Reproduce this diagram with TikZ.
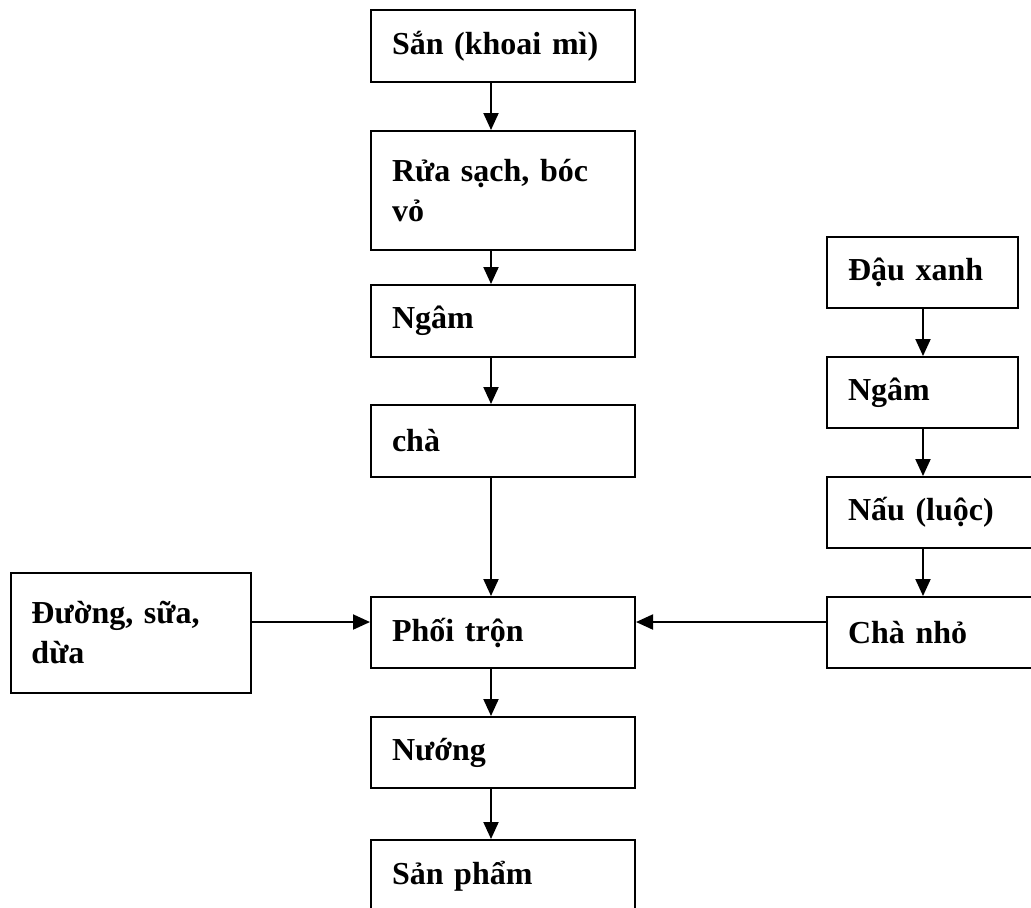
\documentclass[tikz,border=0pt]{standalone}
\usepackage{fontspec}
\setmainfont{Liberation Serif}
\usetikzlibrary{arrows.meta,positioning}

\begin{document}
\begin{tikzpicture}[x=0.5pt,y=-0.5pt,>={Triangle[length=8.5pt,width=7.5pt]},line width=1pt,
  every node/.style={draw,rectangle,align=left,inner xsep=10.5pt,inner ysep=0pt,
    font=\fontsize{16}{20}\selectfont\bfseries},
  midbox/.style={text width=111pt,minimum height=36pt},
  sidebox/.style={text width=74.5pt,minimum height=35.5pt},
  widebox/.style={text width=85.5pt,minimum height=35.5pt}]
\useasboundingbox (0,0) rectangle (1031,907);
\clip (0,0) rectangle (1031,907);

% main column
\node[midbox] (san) at (503,46) {Sắn (khoai mì)};
\node[midbox,minimum height=59.5pt] (rua) at (503,190.5) {Rửa sạch, bóc\\vỏ};
\node[midbox] (ngam1) at (503,321) {Ngâm};
\node[midbox] (cha) at (503,441) {chà};
\node[midbox,minimum height=35.5pt] (phoi) at (503,632.5) {Phối trộn};
\node[midbox,minimum height=35.5pt] (nuong) at (503,752.5) {Nướng};
\node[midbox] (sp) at (503,876) {Sản phẩm};

% side inputs
\node[text width=99pt,minimum height=60pt] (duong) at (130.5,633) {Đường, sữa,\\dừa};
\node[sidebox] (dau) at (922.5,272.5) {Đậu xanh};
\node[sidebox] (ngam2) at (922.5,392.5) {Ngâm};
\node[widebox] (nau) at (933.5,512.5) {Nấu (luộc)};
\node[widebox] (chanho) at (933.5,632.5) {Chà nhỏ};

\coordinate (lx) at (491,0);
\coordinate (rx) at (923,0);
\coordinate (my) at (0,622);

\foreach \from/\to in {san/rua,rua/ngam1,ngam1/cha,cha/phoi,phoi/nuong,nuong/sp}
\draw [->] (\from.south -| lx) -- (\to.north -| lx);
\foreach \from/\to in {dau/ngam2,ngam2/nau,nau/chanho}
\draw [->] (\from.south -| rx) -- (\to.north -| rx);
\draw [->] (duong.east |- my) -- (phoi.west |- my);
\draw [->] (chanho.west |- my) -- (phoi.east |- my);
\end{tikzpicture}
\end{document}
